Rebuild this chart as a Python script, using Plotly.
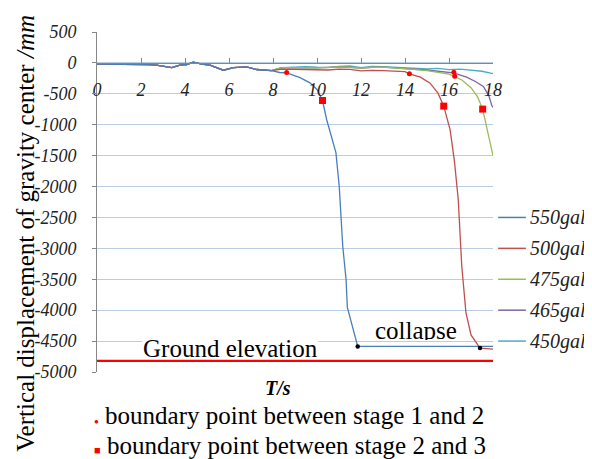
import plotly.graph_objects as go

# ---------------- data ----------------
t_common = [0, 0.5, 1.0, 1.5, 2.0, 2.35, 2.7, 3.05, 3.4, 3.77, 4.08, 4.38, 4.76, 5.14, 5.45, 5.74, 6.2, 6.8, 7.26, 7.7, 7.94]
y_common = [-20, -22, -25, -26, -21, -28, -37, -55, -75, -37, -26, 11, -21, -37, -80, -118, -75, -64, -107, -120, -125]

t_550 = [8.3, 8.62, 9.23, 9.68, 10.0, 10.25, 10.44, 10.86, 11.01, 11.17, 11.32, 11.38, 11.85, 18.0]
y_550 = [-155, -161, -237, -323, -430, -608, -919, -1452, -1995, -2962, -3500, -3957, -4586, -4586]

t_500 = [8.4, 9.0, 9.5, 10.0, 10.5, 11.0, 11.5, 12.0, 12.5, 13.0, 13.5, 14.0, 14.2, 14.7, 15.14, 15.5, 15.76, 16.05, 16.25, 16.42, 16.58, 16.77, 17.0, 17.41, 18.0]
y_500 = [-100, -105, -100, -110, -115, -100, -105, -130, -120, -125, -130, -140, -177, -230, -328, -489, -699, -1080, -1600, -2210, -3285, -4038, -4400, -4613, -4630]

t_475 = [8.4, 9.0, 9.5, 10.0, 10.5, 11.0, 11.5, 12.0, 12.5, 13.0, 13.5, 14.0, 14.5, 15.0, 15.5, 16.0, 16.25, 16.6, 17.0, 17.3, 17.53, 17.74, 17.9, 18.0]
y_475 = [-78, -70, -75, -80, -72, -65, -70, -85, -70, -68, -80, -90, -110, -125, -150, -180, -220, -280, -400, -550, -747, -1080, -1350, -1500]

t_465 = [8.4, 9.0, 9.5, 10.0, 10.5, 11.0, 11.5, 12.0, 12.5, 13.0, 13.5, 14.0, 14.5, 15.0, 15.5, 16.0, 16.2, 16.8, 17.2, 17.56, 17.8, 17.95, 18.0]
y_465 = [-78, -70, -75, -80, -72, -65, -70, -85, -70, -68, -80, -90, -105, -115, -135, -150, -160, -230, -300, -382, -520, -693, -720]

t_450 = [8.4, 9.0, 9.5, 10.0, 10.5, 11.0, 11.5, 12.0, 12.5, 13.0, 13.5, 14.0, 14.5, 15.0, 15.5, 16.0, 16.5, 17.0, 17.5, 18.0]
y_450 = [-75, -64, -60, -70, -75, -55, -50, -75, -55, -60, -70, -75, -85, -95, -90, -110, -100, -115, -135, -175]

series_names = ["550gal", "500gal", "475gal", "465gal", "450gal"]
series_colors = ["#4a7ebb", "#c0504d", "#9bbb59", "#8064a2", "#4bacc6"]

stage12_t = [8.62, 14.2, 16.22, 16.26]
stage12_y = [-156, -177, -150, -215]
stage23_t = [10.25, 15.76, 17.53]
stage23_y = [-608, -699, -747]
collapse_t = [11.85, 17.41]
collapse_y = [-4586, -4613]

ground_level = -4820
x_ticks = [0, 2, 4, 6, 8, 10, 12, 14, 16, 18]
y_ticks = [500, 0, -500, -1000, -1500, -2000, -2500, -3000, -3500, -4000, -4500, -5000]
legend_y = [-2500, -3000, -3500, -4000, -4500]

FONT = "Times New Roman, Liberation Serif, DejaVu Serif, serif"

fig = go.Figure()

fig.add_trace(go.Scatter(x=[0, 18], y=[ground_level, ground_level], mode="lines",
                         line=dict(color="#ff0000", width=2.2), showlegend=False, hoverinfo="skip"))

data_series = [
    (t_550, y_550), (t_500, y_500), (t_475, y_475), (t_465, y_465), (t_450, y_450)
]
for i in [4, 3, 2, 1, 0]:
    tt, yy = data_series[i]
    fig.add_trace(go.Scatter(x=t_common + tt, y=y_common + yy, mode="lines",
                             line=dict(color=series_colors[i], width=1.3),
                             name=series_names[i], showlegend=False))

fig.add_trace(go.Scatter(x=stage12_t, y=stage12_y, mode="markers",
                         marker=dict(color="#ff0000", size=5, symbol="circle"), showlegend=False))
fig.add_trace(go.Scatter(x=stage23_t, y=stage23_y, mode="markers",
                         marker=dict(color="#ff0000", size=7, symbol="square"), showlegend=False))
fig.add_trace(go.Scatter(x=collapse_t, y=collapse_y, mode="markers",
                         marker=dict(color="#000000", size=4.5, symbol="circle"), showlegend=False))

annotations = []
for name, col, ly in zip(series_names, series_colors, legend_y):
    fig.add_shape(type="line", xref="paper", yref="y", x0=1.013, x1=1.083, y0=ly, y1=ly,
                  line=dict(color=col, width=1.5))
    annotations.append(dict(xref="paper", yref="y", x=1.088, y=ly, text=name, showarrow=False,
                            xanchor="left", yanchor="middle",
                            font=dict(family=FONT, size=20, color="#222", style="italic")))

annotations += [
    dict(xref="paper", yref="paper", x=-0.18, y=0.409, textangle=-90, showarrow=False,
         xanchor="center", yanchor="middle",
         text="Vertical displacement of gravity center <i>/mm</i>",
         font=dict(family=FONT, size=25, color="#000")),
    dict(xref="paper", yref="paper", x=0.457, y=-0.047, showarrow=False, text="T/s",
         xanchor="center", yanchor="middle",
         font=dict(family=FONT, size=20, color="#000", style="italic", weight="bold")),
    dict(xref="paper", yref="paper", x=-0.012, y=-0.129, xanchor="left", yanchor="middle",
         showarrow=False,
         text="<span style='color:#ff0000;font-size:8px'>●</span> boundary point between stage 1 and 2",
         font=dict(family=FONT, size=25, color="#000")),
    dict(xref="paper", yref="paper", x=-0.012, y=-0.215, xanchor="left", yanchor="middle",
         showarrow=False,
         text="<span style='color:#ff0000;font-size:11px'>■</span> boundary point between stage 2 and 3",
         font=dict(family=FONT, size=25, color="#000")),
    dict(xref="x", yref="y", x=6.05, y=-4617, showarrow=False, text="Ground elevation",
         xanchor="center", yanchor="middle",
         bgcolor="#ffffff", height=20, borderpad=0, valign="middle",
         font=dict(family=FONT, size=25, color="#000")),
    dict(xref="x", yref="y", x=14.5, y=-4325, showarrow=False, text="collapse",
         xanchor="center", yanchor="middle",
         bgcolor="#ffffff", height=20, borderpad=0, valign="middle",
         font=dict(family=FONT, size=25, color="#000")),
]

# page body adds an 8px offset; compensate so the plot lands where the reference has it
fig.update_layout(
    width=584, height=451,
    margin=dict(l=89, r=99, t=24, b=87),
    plot_bgcolor="#ffffff", paper_bgcolor="#ffffff",
    annotations=annotations,
    showlegend=False,
    xaxis=dict(range=[0, 18], tickvals=x_ticks, ticktext=[str(v) for v in x_ticks],
               anchor="free", position=5000 / 5500, side="bottom",
               showgrid=False, zeroline=False, showline=True, linecolor="#868686", linewidth=1,
               ticks="inside", ticklen=5, tickcolor="#868686", ticklabelstandoff=10,
               tickfont=dict(family=FONT, size=18, color="#222", style="italic")),
    yaxis=dict(range=[-5000, 500], tickvals=y_ticks, ticktext=[str(v) for v in y_ticks],
               showgrid=True, gridcolor="#b9cde5", gridwidth=1.2, zeroline=False,
               showline=True, linecolor="#868686", linewidth=1,
               ticks="outside", ticklen=4, tickcolor="#868686", ticklabelstandoff=12,
               tickfont=dict(family=FONT, size=18, color="#222", style="italic")),
)

fig.write_html("out.html")
